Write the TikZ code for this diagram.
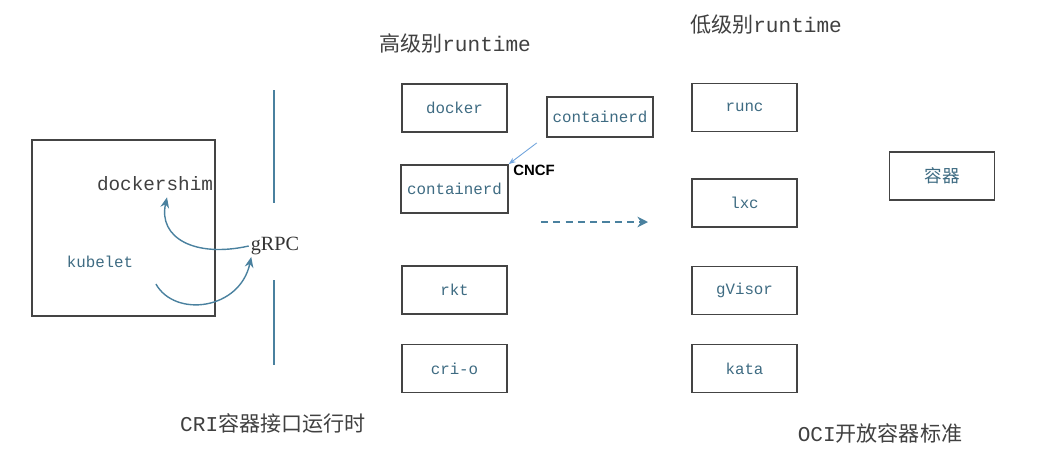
\documentclass[tikz,border=0pt]{standalone}
\usepackage{fontspec}
\setmainfont{Liberation Serif}
\setsansfont{Liberation Sans}
\setmonofont{Liberation Mono}
\newfontfamily\cjk{Noto Sans CJK SC}
\usetikzlibrary{arrows.meta}

\definecolor{boxline}{HTML}{444444}
\definecolor{labelblue}{HTML}{3E6B82}
\definecolor{wireblue}{HTML}{4A819F}
\definecolor{cncfblue}{HTML}{6FA3DC}

\begin{document}
\begin{tikzpicture}[x=0.02cm, y=-0.02cm,
    rtbox/.style={draw=boxline, line width=1pt, minimum width=2.1cm, minimum height=0.96cm,
                  font=\ttfamily\fontsize{9}{10}\selectfont, text=labelblue},
    heading/.style={font=\fontsize{12}{14}\selectfont, text=black!75},
    wire/.style={wireblue, line width=0.8pt, -{Stealth[length=6pt,width=5pt]}}]
                \useasboundingbox (0,0) rectangle (1039,454);

                % CRI side: kubelet host and gRPC
                \node[draw=boxline, line width=1pt, minimum width=3.66cm, minimum height=3.52cm] (host) at (123.5,228) {};
                \node[font=\ttfamily\fontsize{11}{12}\selectfont, text=black!75] (shim) at (155,184) {dockershim};
                \node[font=\ttfamily\fontsize{9}{10}\selectfont, text=labelblue] (kubelet) at (100,262) {kubelet};
                \node[font=\fontsize{11.5}{12}\selectfont, text=black!80, inner sep=1pt] (grpc) at (275,246) {gRPC};
                \draw[wireblue, line width=0.9pt] (274,90) -- (274,203); % upper divider
                \draw[wireblue, line width=0.9pt] (274,280) -- (274,365); % lower divider
                \draw[wire] (grpc.west) .. controls (195,258) and (158,238) .. ([xshift=0.24cm]shim.south);
                \draw[wire] ([xshift=0.33cm,yshift=-0.2cm]kubelet.south east) .. controls (175,318) and (240,310) .. ([xshift=0.05cm]grpc.south west);
                \node[heading] (cri) at (273,423) {\texttt{CRI}{\cjk 容器接口运行时}};

                % High level runtimes
                \node[heading] (high) at (455,43) {{\cjk 高级别}\texttt{runtime}};
                \node[rtbox] (docker) at (454.5,108) {docker};
                \node[rtbox] (ctrd) at (454.5,189) {containerd};
                \node[rtbox] (rkt) at (454.5,290) {rkt};
                \node[rtbox] (crio) at (454.5,368.5) {cri-o};
                \node[rtbox, minimum width=2cm, minimum height=0.8cm] (ctrdcncf) at (600,117) {containerd};
                \draw[cncfblue, line width=0.5pt, -{Stealth[length=4pt,width=3pt]}] ([xshift=-0.18cm,yshift=-0.1cm]ctrdcncf.south west) -- (ctrd.north east);
                \node[font=\sffamily\bfseries\fontsize{8.5}{10}\selectfont, anchor=west, inner sep=0pt] (cncf) at (513,170) {CNCF};

                % hand over to the low level
                \coordinate (from) at (541,222);
                \coordinate (to) at (648,222);
                \draw[wireblue, line width=1.5pt, dash pattern=on 4pt off 3pt, -{Stealth[length=6pt,width=6pt]}] (from) -- (to);

                % Low level runtimes
                \node[heading] (low) at (766,25) {{\cjk 低级别}\texttt{runtime}};
                \node[rtbox] (runc) at (744.5,107.5) {runc};
                \node[rtbox] (lxc) at (744.5,203) {lxc};
                \node[rtbox] (gvisor) at (744.5,290.5) {gVisor};
                \node[rtbox] (kata) at (744.5,368.5) {kata};
                \node[rtbox, font=\cjk\fontsize{10}{12}\selectfont] (ctr) at (942,176) {容器};
                \node[heading] (oci) at (880,433) {\texttt{OCI}{\cjk 开放容器标准}};
            \end{tikzpicture}
\end{document}
